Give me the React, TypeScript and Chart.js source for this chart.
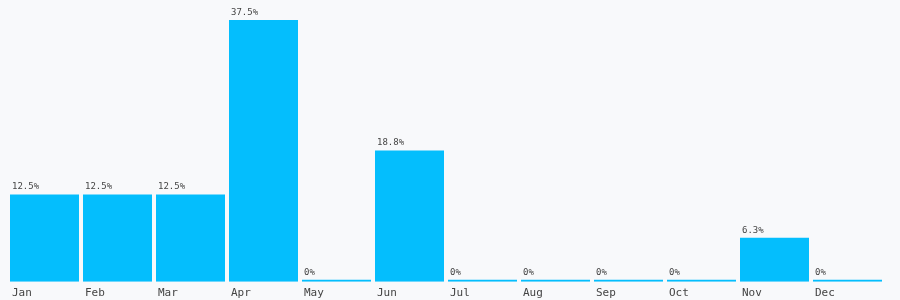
import React, { useEffect, useRef } from "react";
import { Chart, registerables } from "chart.js";

Chart.register(...registerables);

const months = ["Jan", "Feb", "Mar", "Apr", "May", "Jun", "Jul", "Aug", "Sep", "Oct", "Nov", "Dec"];
const shares = [12.5, 12.5, 12.5, 37.5, 0, 18.8, 0, 0, 0, 0, 6.3, 0];
const BAR_COLOR = "#04befd";
const TEXT_COLOR = "#444444";
const BG = "#f8f9fb";
const MONO = "'DejaVu Sans Mono', monospace";

const valueLabels = {
  id: "valueLabels",
  afterDatasetsDraw(chart: any) {
    const ctx = chart.ctx;
    const meta = chart.getDatasetMeta(0);
    ctx.save();
    ctx.font = `9px ${MONO}`;
    ctx.fillStyle = TEXT_COLOR;
    ctx.textAlign = "left";
    ctx.textBaseline = "bottom";
    meta.data.forEach((bar: any, i: number) => {
      const v = shares[i];
      const left = bar.x - bar.width / 2;
      const top = Math.min(bar.y, bar.base);
      ctx.fillText(`${v}%`, left + 2, top - 3);
    });
    ctx.restore();
  },
};

export default function App() {
  const ref = useRef<HTMLCanvasElement | null>(null);
  useEffect(() => {
    if (!ref.current) return;
    const chart = new Chart(ref.current, {
      type: "bar",
      data: {
        labels: months,
        datasets: [
          {
            data: shares,
            backgroundColor: BAR_COLOR,
            borderWidth: 0,
            categoryPercentage: 1,
            barPercentage: 69 / 73,
            minBarLength: 2,
          },
        ],
      },
      options: {
        animation: false,
        responsive: false,
        maintainAspectRatio: false,
        layout: { padding: { top: 20, left: 8, right: 16, bottom: -5 } },
        plugins: { legend: { display: false }, tooltip: { enabled: false } },
        scales: {
          y: { display: false, min: 0, max: 37.5 },
          x: {
            grid: { display: false, drawTicks: false },
            border: { display: false },
            ticks: {
              align: "start",
              labelOffset: -32.5,
              padding: 5,
              color: TEXT_COLOR,
              font: { family: MONO, size: 11 },
              maxRotation: 0,
              autoSkip: false,
            },
          },
        },
      },
      plugins: [valueLabels],
    });
    return () => chart.destroy();
  }, []);
  return (
    <div style={{ position: "absolute", left: 0, top: 0, width: 900, height: 300, background: BG }}>
      <canvas ref={ref} width={900} height={300} style={{ display: "block" }} />
    </div>
  );
}
